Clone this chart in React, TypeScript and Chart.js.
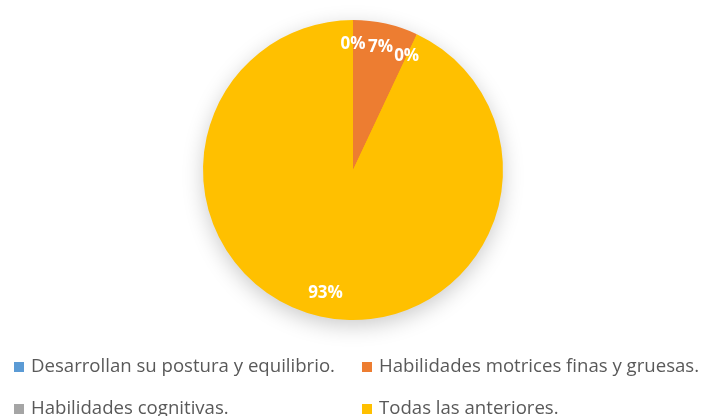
import React, { useEffect, useRef } from "react";
import { Chart, registerables } from "chart.js";

Chart.register(...registerables);

const categories = [
  "Desarrollan su postura y equilibrio.",
  "Habilidades motrices finas y gruesas.",
  "Habilidades cognitivas.",
  "Todas las anteriores.",
];
const values = [0, 7, 0, 93];
const colors = ["#5B9BD5", "#ED7D31", "#A5A5A5", "#FFC000"];

const shadowPlugin = {
  id: "pieShadow",
  beforeDatasetsDraw(chart: any) {
    const ctx = chart.ctx;
    const arc = chart.getDatasetMeta(0).data[0];
    if (!arc) return;
    const p = arc.getProps(["x", "y", "outerRadius"], true);
    ctx.save();
    ctx.shadowColor = "rgba(0,0,0,0.22)";
    ctx.shadowBlur = 22;
    ctx.shadowOffsetY = 6;
    ctx.fillStyle = "#FFC000";
    ctx.beginPath();
    ctx.arc(p.x, p.y, p.outerRadius - 1, 0, Math.PI * 2);
    ctx.fill();
    ctx.restore();
  },
};

const labelPlugin = {
  id: "pieLabels",
  afterDatasetsDraw(chart: any) {
    const ctx = chart.ctx;
    const meta = chart.getDatasetMeta(0);
    const data = chart.data.datasets[0].data as number[];
    const total = data.reduce((a, b) => a + b, 0);
    ctx.save();
    ctx.fillStyle = "#FFFFFF";
    ctx.font = "bold 17px 'Open Sans', sans-serif";
    ctx.textAlign = "center";
    ctx.textBaseline = "middle";
    meta.data.forEach((arc: any, i: number) => {
      const p = arc.getProps(["x", "y", "startAngle", "endAngle", "outerRadius"], true);
      const mid = (p.startAngle + p.endAngle) / 2;
      const r = p.outerRadius * 0.84;
      const x = p.x + Math.cos(mid) * r;
      const y = p.y + Math.sin(mid) * r;
      ctx.fillText(Math.round((data[i] / total) * 100) + "%", x, y);
    });
    ctx.restore();
  },
};

const legendPlugin = {
  id: "gridLegend",
  afterDraw(chart: any) {
    const ctx = chart.ctx;
    const colX = [14, 362];
    const rowY = [367, 409];
    ctx.save();
    ctx.font = "18.6px 'Open Sans', sans-serif";
    ctx.textBaseline = "middle";
    ctx.textAlign = "left";
    categories.forEach((c, i) => {
      const x = colX[i % 2];
      const y = rowY[Math.floor(i / 2)];
      ctx.fillStyle = colors[i];
      ctx.fillRect(x, y - 5, 10, 10);
      ctx.fillStyle = "#595959";
      ctx.fillText(c, x + 17, y);
    });
    ctx.restore();
  },
};

export default function App() {
  const ref = useRef<HTMLCanvasElement>(null);
  useEffect(() => {
    if (!ref.current) return;
    const chart = new Chart(ref.current, {
      type: "pie",
      data: {
        labels: categories,
        datasets: [
          {
            data: values,
            backgroundColor: colors,
            borderWidth: 0,
          },
        ],
      },
      options: {
        animation: false,
        responsive: false,
        layout: { padding: { left: 203, right: 201, top: 20, bottom: 96 } },
        plugins: {
          legend: { display: false },
          tooltip: { enabled: false },
        },
      },
      plugins: [shadowPlugin, labelPlugin, legendPlugin],
    });
    return () => chart.destroy();
  }, []);
  return (
    <div style={{ position: "fixed", left: 0, top: 0, width: 704, height: 416, background: "#fff" }}>
      <canvas ref={ref} width={704} height={416} style={{ width: 704, height: 416 }} />
    </div>
  );
}
